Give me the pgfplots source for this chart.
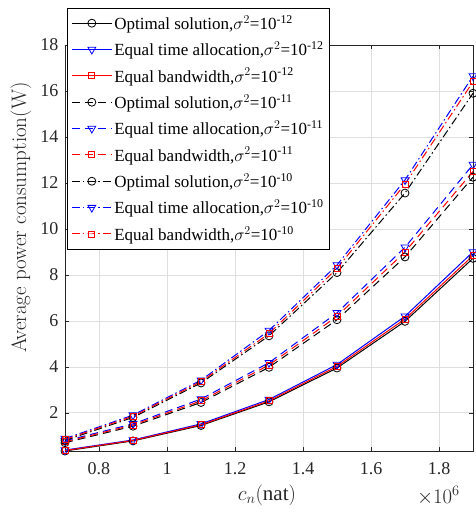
\documentclass[border=0pt]{standalone}
\usepackage{fontspec}
\setmainfont{Liberation Serif}
\usepackage{pgfplots}
\pgfplotsset{compat=1.18}
\definecolor{axgray}{HTML}{262626}
\definecolor{mblue}{HTML}{0000FF}
\definecolor{mred}{HTML}{FF0000}
\begin{document}
\begin{tikzpicture}
\path[use as bounding box] (-65pt,-63pt) rectangle (410pt,451pt);
\pgfplotsset{
  s1/.style={solid, line width=1pt},
  s2/.style={dash pattern=on 8pt off 5pt, line width=1pt},
  s3/.style={dash pattern=on 8pt off 3pt on 1.5pt off 3pt, line width=1pt},
  mopt/.style={black, mark=o, mark size=4pt, mark options={solid, line width=0.8pt}},
  mtime/.style={mblue, mark=triangle, mark size=4.5pt, mark options={solid, rotate=180, line width=0.8pt}},
  mbw/.style={mred, mark=square, mark size=3pt, mark options={solid, line width=0.8pt}},
}
\begin{axis}[
  at={(0pt,0pt)}, anchor=south west,
  scale only axis, width=408pt, height=406pt,
  xmin=0.7, xmax=1.9, ymin=0.34, ymax=18,
  xtick={0.8,1,1.2,1.4,1.6,1.8}, ytick={2,4,6,8,10,12,14,16,18},
  tick align=inside, major tick length=4pt,
  axis line style={axgray, line width=0.7pt},
  tick style={axgray, line width=0.6pt},
  grid=major, grid style={gray!25, line width=0.7pt},
  /pgf/number format/assume math mode=true,
  tick label style={font=\fontsize{18}{20}\selectfont, text=axgray},
  x tick label style={yshift=-8pt},
  y tick label style={xshift=-3pt},
  xlabel={$c_n(\mathrm{nat})$},
  ylabel={\fontfamily{lmr}\selectfont Average power consumption(W)},
  label style={font=\fontsize{21}{23}\selectfont, text=axgray},
  xlabel style={at={(axis description cs:0.495,-0.108)}, anchor=center},
  ylabel style={at={(axis description cs:-0.108,0.575)}, anchor=center},
  legend style={at={(0.005,1.091)}, anchor=north west, draw=black, line width=0.6pt,
    font=\fontsize{17}{19}\selectfont, fill=white, inner xsep=4pt, inner ysep=5pt,
    row sep=6.7pt, nodes={inner sep=2pt}, cells={anchor=west}},
  legend image code/.code={\draw[mark repeat=2, mark phase=2] plot coordinates {(0pt,0pt) (20pt,0pt) (40pt,0pt)};},
  clip=false,
]
\addplot[s1, mopt] coordinates {(0.7,0.34) (0.9,0.78) (1.1,1.45) (1.3,2.48) (1.5,3.95) (1.7,5.98) (1.9,8.72)};
\addlegendentry{Optimal solution,$\sigma^2$=10\textsuperscript{-12}}
\addplot[s1, mtime] coordinates {(0.7,0.38) (0.9,0.82) (1.1,1.52) (1.3,2.58) (1.5,4.10) (1.7,6.20) (1.9,9.00)};
\addlegendentry{Equal time allocation,$\sigma^2$=10\textsuperscript{-12}}
\addplot[s1, mbw] coordinates {(0.7,0.36) (0.9,0.80) (1.1,1.48) (1.3,2.52) (1.5,4.02) (1.7,6.08) (1.9,8.84)};
\addlegendentry{Equal bandwidth,$\sigma^2$=10\textsuperscript{-12}}
\addplot[s2, mopt] coordinates {(0.7,0.70) (0.9,1.42) (1.1,2.45) (1.3,3.98) (1.5,6.05) (1.7,8.78) (1.9,12.25)};
\addlegendentry{Optimal solution,$\sigma^2$=10\textsuperscript{-11}}
\addplot[s2, mtime] coordinates {(0.7,0.78) (0.9,1.52) (1.1,2.60) (1.3,4.18) (1.5,6.35) (1.7,9.20) (1.9,12.80)};
\addlegendentry{Equal time allocation,$\sigma^2$=10\textsuperscript{-11}}
\addplot[s2, mbw] coordinates {(0.7,0.74) (0.9,1.47) (1.1,2.52) (1.3,4.08) (1.5,6.20) (1.7,9.00) (1.9,12.50)};
\addlegendentry{Equal bandwidth,$\sigma^2$=10\textsuperscript{-11}}
\addplot[s3, mopt] coordinates {(0.7,0.80) (0.9,1.80) (1.1,3.30) (1.3,5.35) (1.5,8.10) (1.7,11.56) (1.9,15.90)};
\addlegendentry{Optimal solution,$\sigma^2$=10\textsuperscript{-10}}
\addplot[s3, mtime] coordinates {(0.7,0.88) (0.9,1.90) (1.1,3.42) (1.3,5.58) (1.5,8.43) (1.7,12.13) (1.9,16.65)};
\addlegendentry{Equal time allocation,$\sigma^2$=10\textsuperscript{-10}}
\addplot[s3, mbw] coordinates {(0.7,0.84) (0.9,1.85) (1.1,3.36) (1.3,5.45) (1.5,8.28) (1.7,11.95) (1.9,16.40)};
\addlegendentry{Equal bandwidth,$\sigma^2$=10\textsuperscript{-10}}
\node[anchor=east, font=\fontsize{20}{22}\selectfont, text=axgray, inner sep=0pt]
  at (axis description cs:0.968,-0.11) {$\times10^{6}$};
\end{axis}
\end{tikzpicture}
\end{document}
